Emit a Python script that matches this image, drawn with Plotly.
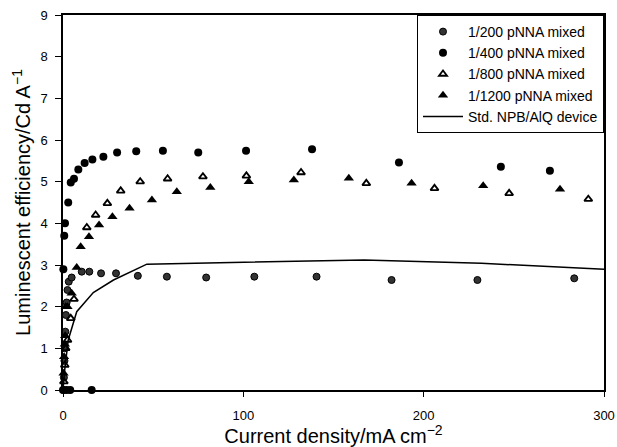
import plotly.graph_objects as go

# 1/200 pNNA mixed
x200 = [0.3, 0.5, 0.8, 1.0, 1.3, 1.6, 2.0, 2.5, 3.2, 4.8, 10.4, 14.6, 21.1, 29.4, 41.5, 57.6, 79.4, 106.1, 140.6, 182.2, 229.8, 283.5]
y200 = [0.0, 0.3, 0.7, 1.0, 1.4, 1.8, 2.1, 2.4, 2.6, 2.70, 2.84, 2.84, 2.80, 2.80, 2.74, 2.72, 2.70, 2.72, 2.72, 2.64, 2.64, 2.68]

# 1/400 pNNA mixed
x400 = [0.0, 2.0, 4.0, 15.9, 0.2, 0.7, 1.1, 2.9, 4.3, 6.1, 8.5, 12.0, 16.3, 22.4, 30.0, 40.6, 55.4, 75.0, 101.5, 138.1, 186.3, 242.8, 270.0]
y400 = [0.0, 0.0, 0.0, 0.0, 2.9, 3.7, 4.0, 4.5, 4.98, 5.07, 5.29, 5.45, 5.53, 5.60, 5.70, 5.73, 5.74, 5.70, 5.74, 5.78, 5.46, 5.36, 5.26]

# 1/800 pNNA mixed
x800 = [0.5, 1.0, 1.5, 2.5, 4.3, 6.1, 13.2, 18.1, 24.6, 32.0, 42.8, 58.0, 77.6, 101.7, 132.0, 168.2, 206.0, 247.4, 291.3]
y800 = [0.2, 0.6, 1.0, 1.2, 1.72, 2.18, 3.90, 4.20, 4.48, 4.78, 5.00, 5.07, 5.12, 5.14, 5.22, 4.96, 4.84, 4.72, 4.58]

# 1/1200 pNNA mixed
x1200 = [0.3, 0.6, 1.0, 1.2, 1.5, 2.5, 4.8, 7.6, 9.8, 14.4, 20.0, 27.4, 36.9, 49.3, 63.1, 81.7, 103.0, 128.0, 158.5, 193.3, 233.0, 275.6]
y1200 = [0.4, 0.8, 1.1, 1.3, 2.0, 2.0, 2.32, 2.94, 3.44, 3.68, 3.96, 4.16, 4.36, 4.56, 4.76, 4.86, 5.00, 5.04, 5.08, 4.96, 4.90, 4.82]

# Std. NPB/AlQ device
xstd = [0, 1.0, 2.9, 7.6, 16.8, 28.0, 46.5, 100, 167, 232, 300]
ystd = [0, 0.5, 1.2, 1.88, 2.34, 2.64, 3.02, 3.06, 3.12, 3.04, 2.90]

fig = go.Figure()
fig.add_trace(go.Scatter(x=x200, y=y200, mode="markers", name="1/200 pNNA mixed",
                         marker=dict(symbol="circle", size=7, color="#333333",
                                     line=dict(color="black", width=1)), cliponaxis=False))
fig.add_trace(go.Scatter(x=x400, y=y400, mode="markers", name="1/400 pNNA mixed",
                         marker=dict(symbol="circle", size=8, color="black"), cliponaxis=False))
fig.add_trace(go.Scatter(x=x800, y=y800, mode="markers", name="1/800 pNNA mixed",
                         marker=dict(symbol="triangle-up-open", size=7, color="black",
                                     line=dict(width=1.8)), cliponaxis=False))
fig.add_trace(go.Scatter(x=x1200, y=y1200, mode="markers", name="1/1200 pNNA mixed",
                         marker=dict(symbol="triangle-up", size=9, color="black"), cliponaxis=False))
fig.add_trace(go.Scatter(x=xstd, y=ystd, mode="lines", name="Std. NPB/AlQ device",
                         line=dict(color="black", width=1.5), cliponaxis=False))

font = "Liberation Sans, Arial, sans-serif"
fig.update_layout(
    width=617, height=447,
    margin=dict(l=63, r=13, t=15, b=57),
    paper_bgcolor="white", plot_bgcolor="white",
    font=dict(family=font, color="black", size=12),
    showlegend=True,
    legend=dict(x=1, y=1, xanchor="right", yanchor="top",
                bordercolor="black", borderwidth=1, bgcolor="white",
                font=dict(size=14), tracegroupgap=0, itemwidth=40),
    xaxis=dict(range=[0, 300], tickvals=[0, 100, 200, 300], automargin=False,
               showline=True, linecolor="black", linewidth=1.5, mirror=True,
               ticks="outside", ticklen=5, tickcolor="black", showgrid=False, zeroline=False,
               ticklabelstandoff=8, tickfont=dict(size=13),
               title=dict(text="Current density/mA cm<sup>−2</sup>", font=dict(size=20), standoff=4)),
    yaxis=dict(range=[0, 9], tickvals=list(range(10)), automargin=False,
               showline=True, linecolor="black", linewidth=1.5, mirror=True,
               ticks="outside", ticklen=6, tickcolor="black", showgrid=False, zeroline=False,
               ticklabelstandoff=5, tickfont=dict(size=13),
               title=dict(text="Luminescent efficiency/Cd A<sup>−1</sup>", font=dict(size=20), standoff=4)),
)

fig.write_html("out.html")
